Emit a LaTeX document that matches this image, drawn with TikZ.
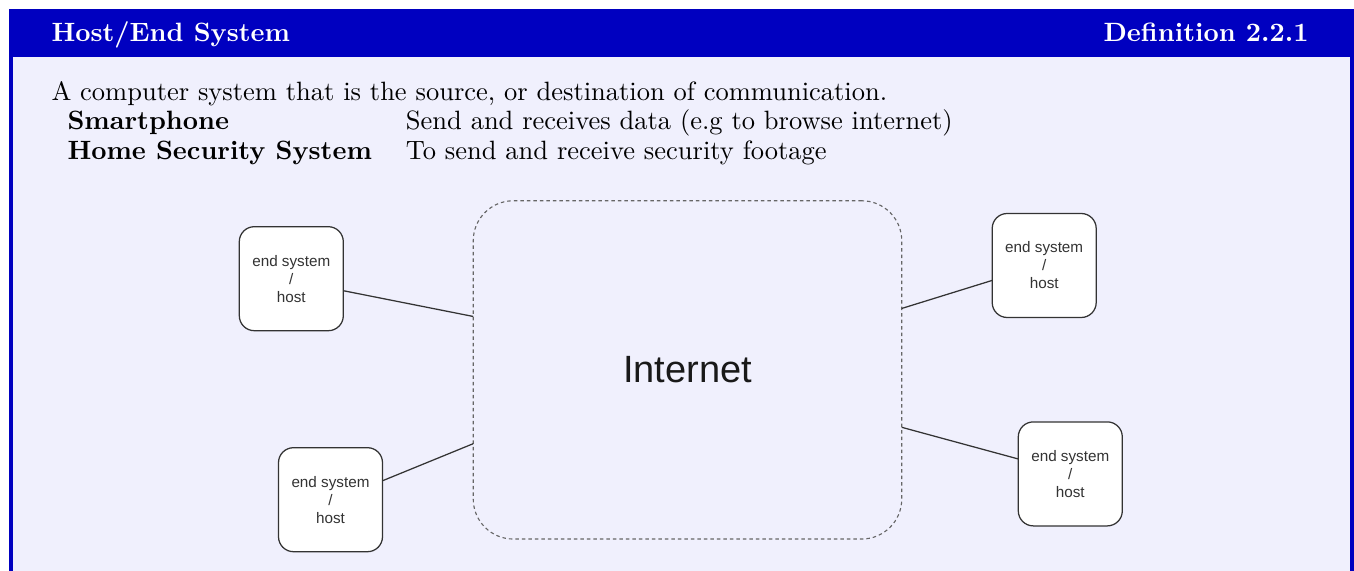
\documentclass[tikz,border=0pt]{standalone}
\usepackage{fontspec}
\newfontfamily\diafont{Liberation Sans}
\newcommand\deffont{\fontsize{10.6}{12}\selectfont}
\definecolor{defblue}{RGB}{0,0,192}
\definecolor{defback}{RGB}{240,240,253}
\definecolor{boxline}{RGB}{51,51,51}
\tikzset{
	host/.style={draw=boxline,fill=white,rounded corners=6pt,minimum width=41.6pt,minimum height=41.6pt,
		inner sep=0pt,outer sep=0pt,line width=0.5pt,align=center,text=boxline,
		font=\diafont\fontsize{6.1}{7.2}\selectfont},
	cloud/.style={draw=black!60,dash pattern=on 1.4pt off 1.2pt,rounded corners=16pt,minimum width=171.4pt,
		minimum height=135.3pt,inner sep=0pt,outer sep=0pt,line width=0.45pt,text=black!90,
		font=\diafont\fontsize{15.2}{18}\selectfont},
	link/.style={draw=boxline,line width=0.5pt},
	head/.style={inner sep=0pt,text=white,font=\deffont\bfseries}
}
\begin{document}
\begin{tikzpicture}[x=0.4pt,y=-0.4pt,font=\deffont]
	\useasboundingbox (0,0) rectangle (1354,571);
	% frame of the definition box
	\fill[defblue] (9,9) rectangle (1354,571);
	\fill[defback] (13,57) rectangle (1350,571);
	\node[head,anchor=base west] (title) at (51,41.7) {Host/End System};
	\node[head,anchor=base east] (num) at (1309,41.7) {Definition 2.2.1};
	\node[anchor=base west,inner sep=0pt] (desc) at (51,100.7) {A computer system that is the source, or destination of communication.};
	\node[anchor=base west,inner sep=0pt] (uses) at (50,130) {\setlength{\tabcolsep}{6.8pt}\begin{tabular}[t]{ll}
		\textbf{Smartphone} & Send and receives data (e.g to browse internet)\\
		\textbf{Home Security System} & To send and receive security footage
	\end{tabular}};
	% the diagram
	\node[cloud] (inet) at (687.5,369.9) {Internet};
	\node[host] (h1) at (291.3,278.7) {end system\\/\\host};
	\node[host] (h2) at (330.5,499.7) {end system\\/\\host};
	\node[host] (h3) at (1044.2,265.5) {end system\\/\\host};
	\node[host] (h4) at (1070.3,473.9) {end system\\/\\host};
	\draw[link] (h1.-13.3) -- (inet.166.9);
	\draw[link] (h2.20.7) -- (inet.199.9);
	\draw[link] (h3.196.1) -- (inet.16.4);
	\draw[link] (h4.164.4) -- (inet.-15.3);
\end{tikzpicture}
\end{document}
